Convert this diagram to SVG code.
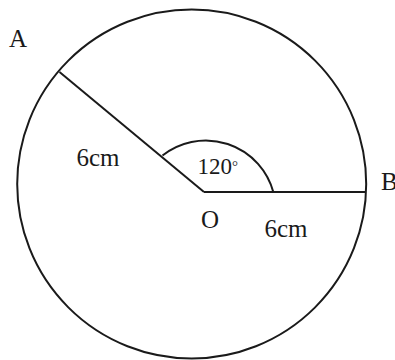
<svg xmlns="http://www.w3.org/2000/svg" width="395" height="360" viewBox="0 0 395 360">
<style>
.s{fill:none;stroke:#1a1a1a;stroke-width:2}
.t{font-family:"Liberation Serif","Times New Roman",serif;fill:#1a1a1a;font-size:25px}
</style>
<rect width="395" height="360" fill="#fff"/>
<g id="circle"><circle class="s" cx="191.7" cy="184" r="174.5"/></g>
<g id="connectors">
<line class="s" x1="59.5" y1="72" x2="204" y2="192"/>
<line class="s" x1="204" y1="192" x2="366" y2="192"/>
<path class="s" d="M162.5 155.5 A70 70 0 0 1 273.3 192"/>
</g>
<g id="labels">
<text class="t" x="9" y="46.5">A</text>
<text class="t" x="381" y="190">B</text>
<text class="t" x="201" y="228">O</text>
<text class="t" x="76.5" y="166">6cm</text>
<text class="t" x="264.5" y="236.5">6cm</text>
<text class="t" x="197.5" y="174" style="font-size:23px">120<tspan style="font-size:15px" dy="-3">°</tspan></text>
</g>
</svg>
